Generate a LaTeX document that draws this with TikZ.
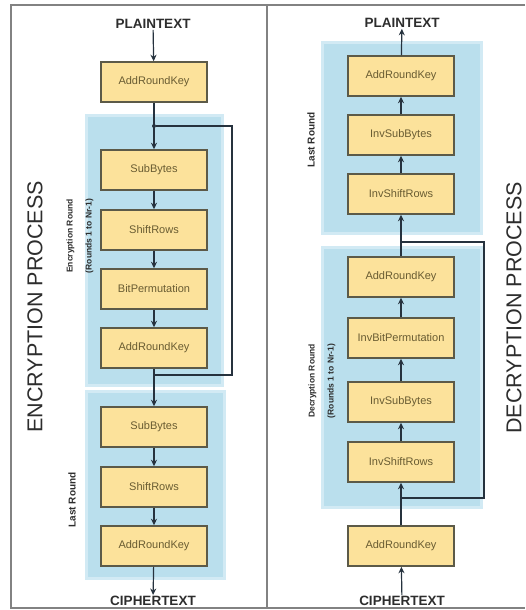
\documentclass[tikz,border=0pt]{standalone}
\usepackage{fontspec}
\setmainfont{Liberation Sans}
\usetikzlibrary{arrows.meta}

\definecolor{regionblue}{RGB}{186,223,237}
\definecolor{regionedge}{RGB}{210,234,244}
\definecolor{boxfill}{RGB}{252,226,155}
\definecolor{boxline}{RGB}{92,90,72}
\definecolor{boxtext}{RGB}{105,92,50}
\definecolor{arrowcol}{RGB}{38,50,62}
\definecolor{framecol}{RGB}{130,130,130}
\definecolor{titlecol}{RGB}{45,45,45}

\tikzset{
  stagebox/.style={draw=boxline, line width=1.5pt, fill=boxfill,
    minimum width=106pt, minimum height=40pt, inner sep=0pt,
    text=boxtext, font=\fontsize{11}{12}\selectfont},
  roundregion/.style={fill=regionblue, draw=regionedge, line width=3pt},
  flow/.style={-{Stealth[length=6.5pt,width=6pt]}, line width=1.2pt, draw=arrowcol},
  loopline/.style={line width=1.2pt, draw=arrowcol},
  endlabel/.style={font=\bfseries\fontsize{13.5}{15}\selectfont, text=titlecol, inner sep=1pt},
  sidetitle/.style={rotate=90, font=\fontsize{21.5}{24}\selectfont, text=titlecol, inner sep=0pt},
  roundlabel/.style={rotate=90, align=center, font=\bfseries\fontsize{8.5}{19}\selectfont, text=titlecol},
  lastlabel/.style={rotate=90, font=\bfseries\fontsize{10}{12}\selectfont, text=titlecol},
  junction/.style={circle, fill=arrowcol, inner sep=0pt, minimum size=4pt}
}

\begin{document}
\begin{tikzpicture}[x=1pt, y=-1pt]
\useasboundingbox (0,0) rectangle (525,610);

% outer frame and the divider between the two processes
\draw[framecol, line width=1.5pt] (525,5) -- (11,5) -- (11,608) -- (525,608);
\draw[framecol, line width=1.5pt] (267,5) -- (267,608);

% ---------------- encryption ----------------
\fill[roundregion] (86,115) rectangle (222,385);
\fill[roundregion] (86,391) rectangle (224,578);

\node[endlabel] (ept) at (153,24) {PLAINTEXT};
\node[stagebox] (e1) at (154,82)  {AddRoundKey};
\node[stagebox] (e2) at (154,170) {SubBytes};
\node[stagebox] (e3) at (154,230) {ShiftRows};
\node[stagebox] (e4) at (154,289) {BitPermutation};
\node[stagebox] (e5) at (154,348) {AddRoundKey};
\node[stagebox] (e6) at (154,427) {SubBytes};
\node[stagebox] (e7) at (154,487) {ShiftRows};
\node[stagebox] (e8) at (154,546) {AddRoundKey};
\node[endlabel] (ect) at (153,601) {CIPHERTEXT};

\node[junction] (ej1) at (154,126) {};
\coordinate (ej2) at (154,375);
\coordinate (eloop) at (232,126);

\draw[flow] (ept) -- (e1);
\draw[flow] (e1) -- (e2);
\draw[flow] (e2) -- (e3);
\draw[flow] (e3) -- (e4);
\draw[flow] (e4) -- (e5);
\draw[flow] (e5) -- (e6);
\draw[flow] (e6) -- (e7);
\draw[flow] (e7) -- (e8);
\draw[flow] (e8) -- (ect);
\draw[loopline] (ej2) -| (eloop) -- (ej1);

\node[sidetitle] (etitle) at (35,307) {ENCRYPTION PROCESS};
\node[roundlabel] (eround) at (80,236) {Encryption Round\\(Rounds 1 to Nr-1)};
\node[lastlabel] (elast) at (72,500) {Last Round};

% ---------------- decryption ----------------
\fill[roundregion] (322,43) rectangle (481,233);
\fill[roundregion] (322,247) rectangle (481,507);

\node[endlabel] (dpt) at (402,23) {PLAINTEXT};
\node[stagebox] (d1) at (401,76)  {AddRoundKey};
\node[stagebox] (d2) at (401,135) {InvSubBytes};
\node[stagebox] (d3) at (401,194) {InvShiftRows};
\node[stagebox] (d4) at (401,277) {AddRoundKey};
\node[stagebox] (d5) at (401,338) {InvBitPermutation};
\node[stagebox] (d6) at (401,402) {InvSubBytes};
\node[stagebox] (d7) at (401,462) {InvShiftRows};
\node[stagebox] (d8) at (401,546) {AddRoundKey};
\node[endlabel] (dct) at (402,601) {CIPHERTEXT};

\coordinate (dj1) at (401,498);
\coordinate (dj2) at (401,242);
\coordinate (dloop) at (484,242);

\draw[flow] (dct) -- (d8);
\draw[flow] (d8) -- (d7);
\draw[flow] (d7) -- (d6);
\draw[flow] (d6) -- (d5);
\draw[flow] (d5) -- (d4);
\draw[flow] (d4) -- (d3);
\draw[flow] (d3) -- (d2);
\draw[flow] (d2) -- (d1);
\draw[flow] (d1) -- (dpt);
\draw[loopline] (dj1) -| (dloop) -- (dj2);

\node[sidetitle] (dtitle) at (514,308) {DECRYPTION PROCESS};
\node[roundlabel] (dround) at (322,381) {Decryption Round\\(Rounds 1 to Nr-1)};
\node[lastlabel] (dlast) at (311,140) {Last Round};
\end{tikzpicture}
\end{document}
